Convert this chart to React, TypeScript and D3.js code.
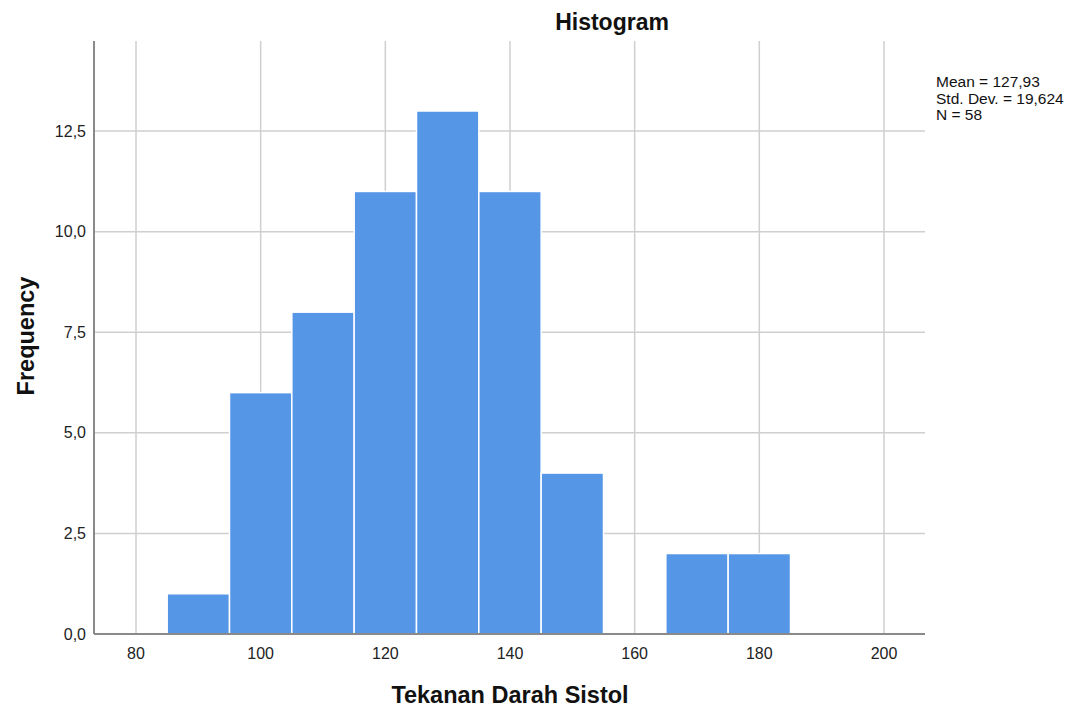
import React from "react";
import * as d3 from "d3";

const binStarts = [85, 95, 105, 115, 125, 135, 145, 155, 165, 175];
const binWidth = 10;
const frequencies = [1, 6, 8, 11, 13, 11, 4, 0, 2, 2];
const xTicks = [80, 100, 120, 140, 160, 180, 200];
const yTicks = [0, 2.5, 5, 7.5, 10, 12.5];
const statsLines = ["Mean = 127,93", "Std. Dev. = 19,624", "N = 58"];

const W = 1078, H = 711;
const left = 94, right = 925, top = 41, bottom = 634;

export default function App() {
  const x = d3.scaleLinear().domain([73.26, 206.58]).range([left, right]);
  const y = d3.scaleLinear().domain([0, 14.74]).range([bottom, top]);
  const fmt = (v: number) => v.toFixed(1).replace(".", ",");
  const font = "'Liberation Sans', Arial, sans-serif";
  return (
    <svg width={W} height={H} style={{ position: "absolute", left: 0, top: 0, fontFamily: font }}>
      <rect width={W} height={H} fill="#fff" />
      {xTicks.map((t) => (
        <line key={"gx" + t} x1={x(t)} x2={x(t)} y1={top} y2={bottom} stroke="#cfcfcf" strokeWidth={1.5} />
      ))}
      {yTicks.filter((t) => t > 0).map((t) => (
        <line key={"gy" + t} x1={left} x2={right} y1={y(t)} y2={y(t)} stroke="#cfcfcf" strokeWidth={1.5} />
      ))}
      {binStarts.map((s, i) =>
        frequencies[i] > 0 ? (
          <rect
            key={"b" + s}
            x={x(s)}
            y={y(frequencies[i])}
            width={x(s + binWidth) - x(s)}
            height={y(0) - y(frequencies[i])}
            fill="#5596e6"
            stroke="#fff"
            strokeWidth={1.5}
          />
        ) : null
      )}
      <line x1={left} x2={left} y1={top} y2={bottom} stroke="#8a8a8a" strokeWidth={2} />
      <line x1={left} x2={right} y1={bottom} y2={bottom} stroke="#8a8a8a" strokeWidth={2} />
      {yTicks.map((t) => (
        <text key={"ty" + t} x={86} y={y(t)} dy="0.35em" textAnchor="end" fontSize={16} fill="#222">
          {fmt(t)}
        </text>
      ))}
      {xTicks.map((t) => (
        <text key={"tx" + t} x={x(t)} y={659} textAnchor="middle" fontSize={16} fill="#222">
          {t}
        </text>
      ))}
      <text x={612} y={30} textAnchor="middle" fontSize={23} fontWeight="bold" fill="#111">
        Histogram
      </text>
      <text x={510} y={703} textAnchor="middle" fontSize={23.5} fontWeight="bold" fill="#111">
        Tekanan Darah Sistol
      </text>
      <text
        transform={`translate(34, 336) rotate(-90)`}
        textAnchor="middle"
        fontSize={23.5}
        fontWeight="bold"
        fill="#111"
      >
        Frequency
      </text>
      {statsLines.map((s, i) => (
        <text key={s} x={936} y={87 + i * 16.5} fontSize={15.5} fill="#111">
          {s}
        </text>
      ))}
    </svg>
  );
}
